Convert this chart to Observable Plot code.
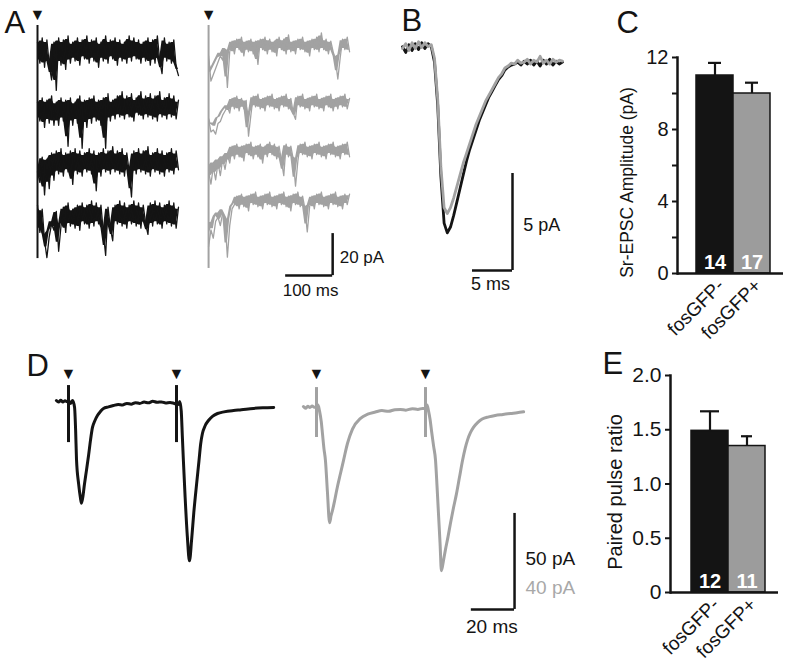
<!DOCTYPE html>
<html><head><meta charset="utf-8">
<script src="https://cdn.jsdelivr.net/npm/d3@7"></script>
<script src="https://cdn.jsdelivr.net/npm/@observablehq/plot@0.6"></script>
<style>
body{margin:0;background:#fff}
#fig{position:relative;width:789px;height:669px;overflow:hidden}
</style></head><body><div id="fig"></div>
<script>
// ---------- DATA ----------
// Panel A: Sr-evoked asynchronous EPSC sweeps (pA, relative to each sweep's baseline), sampled every 5 ms
const aStep = 5;
const aBlack1 = [4,-6,6,-8,5,-7,-14,4,-19,6, -7,5,-9,7,-6,4,-5,6,-7,5, -4,7,-6,5,-5,6,-8,4,-5,7, -6,5,-4,6,-7,5,-5,4,-6,7, -5,6,-4,5,-6,4,-5,6,-7,5, -6,7,-5,-11,6,-5,4,-6,5,-8,-12];
const aBlack2 = [3,-6,5,-9,4,-7,6,-8,3,-8, 5,-6,4,-18,5,-8,3,-7,6,-19, 4,-9,5,-7,6,-6,4,-8,5,-19, 7,-6,4,-5,6,-4,8,-5,6,-4, 7,-6,5,-3,8,-5,6,-4,7,-5, 6,-6,8,-4,5,-5,7,-4,6,-5,4];
const aBlack3 = [-4,-9,3,-15,2,-12,5,-8,6,-5, 7,-6,5,-4,6,-10,7,-5,6,-6, 5,-4,7,-5,6,-13,5,-6,7,-4, 6,-5,8,-4,6,-5,7,-6,5,-4, -16,6,-5,7,-4,6,-5,8,-6,5, -4,7,-5,6,-6,5,-4,7,-5,6,-3];
const aBlack4 = [5,-8,3,-12,-20,-10,-4,-7,2,-17, -5,4,-8,6,-5,3,-6,5,-7,6, -4,5,-6,7,-5,6,-4,5,-8,-19, 4,-6,-12,5,-4,7,-5,6,-6,5, -4,7,-5,6,-6,5,-4,-9,6,-5, 7,-4,6,-6,5,-4,7,-5,6,-6,4];
const aGray1 = [-5,-17,-14,-11,-8,-5,-7,-2,-20,-3, 2,-4,3,-2,4,-5,2,-3,3,-4, 2,-9,3,-2,4,-4,3,-3,2,-5, 4,-2,3,-4,5,-3,2,-4,3,-2, 4,-3,2,-5,3,-2,4,-3,6,-2, 3,-4,2,-3,-7,-16,-6,3,-2,4,-3];
const aGray2 = [-8,-14,-13,-15,-10,-9,-6,-4,-2,-5, 2,-3,3,-4,2,-3,1,-16,-6,3, -2,4,-3,2,-4,3,-2,4,-3,2, -4,3,-2,4,-3,2,-5,-8,3,-2, 4,-3,2,-4,3,-2,4,-3,2,-4, 3,-2,4,-4,2,-3,3,-2,4,-3,2];
const aGray3 = [-10,-16,-8,-14,-6,-12,-4,-9,-2,-6, 2,-4,3,-3,2,-5,3,-2,4,-4, 2,-3,3,-6,2,-3,4,-2,3,-4, 2,-5,-12,3,-3,2,-4,-17,-5,3, -2,4,-3,2,-4,3,-2,4,-3,2, -4,3,-2,4,-3,2,-4,3,-2,4,-3];
const aGray4 = [-22,-14,-18,-10,-8,-12,-6,-9,-27,-12, -4,-2,2,-4,3,-3,2,-5,3,-2, 4,-3,2,-4,3,-2,4,-3,2,-4, 3,-2,4,-3,2,-5,3,-2,4,-3, 2,-4,-15,-3,2,-4,3,-2,4,-3, 2,-4,3,-2,4,-3,2,-4,3,-2,3];
const aScaleMs = 100, aScalePA = 20;

// Panel B: averaged Sr-EPSC (pA), sampled every 0.4 ms
const bStep = 0.4;
const bBlack = [0.2,-0.1,0.3,0.0,0.35,0.05,0.4,0.1,0.35,0.2,-0.6,-2.8,-6.5,-8.9,-9.4,-9.1,-8.5,-7.8,-7.1,-6.4,-5.7,-5.1,-4.6,-4.1,-3.6,-3.2,-2.8,-2.4,-2.1,-1.8,-1.5,-1.3,-1.0,-0.85,-0.75,-0.7,-0.6,-0.75,-0.55,-0.7,-0.5,-0.75,-0.55,-0.8,-0.5,-0.7,-0.45,-0.75,-0.55,-0.7,-0.6];
const bGray  = [0.1,0.35,0.0,0.4,0.1,0.45,0.15,0.4,0.2,0.3,-0.4,-2.5,-6.0,-8.1,-8.4,-8.1,-7.6,-7.0,-6.4,-5.8,-5.3,-4.8,-4.3,-3.8,-3.4,-3.0,-2.6,-2.3,-2.0,-1.7,-1.4,-1.2,-0.9,-0.8,-0.65,-0.7,-0.5,-0.65,-0.6,-0.45,-0.7,-0.5,-0.6,-0.3,-0.65,-0.5,-0.7,-0.45,-0.6,-0.5,-0.55];
const bScaleMs = 5, bScalePA = 5;

// Panel C: Sr-EPSC amplitude
const cGroups = ["fosGFP-", "fosGFP+"];
const cMeans = [11.0, 10.0];
const cSems = [0.7, 0.6];
const cNs = [14, 17];

// Panel D: paired-pulse EPSCs (ms from first stimulus, pA)
const dBlackTime = [-5.6,-4.6,-3.6,-2.6,-1.6,-0.6,0.4,1.0,1.9,2.8,3.3,3.7,4.7,5.5,6.0,6.6,7.4,8.3,9.3,10.2,11.1,12.2,13.4,14.8,16.2,18.5,20.8,23,25,27,29,31,33,35,37,39,41,43,45,47,49,50.9,51.5,52.2,52.7,53.2,54,55,56,57,58,59.3,60.4,61.2,62,63.3,64.8,66.8,69,72,76.4,80,85.6,90,95];
const dBlackAmp  = [0.5,-0.3,0.6,-0.2,0.4,-0.1,0,-1,0.5,-3,-15,-30,-43,-50,-53,-50,-43,-36,-28,-20,-13.5,-10,-7.3,-5.2,-3.6,-2.8,-2.1,-1.5,-1.8,-1.0,-1.4,-0.6,-1.0,-0.3,-0.7,0.1,-0.4,-0.2,-0.8,-0.5,-1.0,-1.5,0,-5,-18,-31,-50,-70,-83,-72,-58,-43,-31,-22,-16.7,-12.5,-9.9,-7.6,-6.25,-5.4,-4.7,-4.3,-3.6,-3.3,-3.1];
const dGrayTime = [-6,-5,-4,-3,-2,-1,0,0.7,1.4,2.2,2.75,3.4,4.1,5.0,6.0,6.7,7.3,8.5,9.6,11,12.4,14.2,16.5,20.2,23.5,27,30,33,36,38.5,41,44,46.5,48.6,50,50.7,51.4,52.1,52.8,53.7,54.6,55.3,56,56.7,57.3,58.2,59.2,60.3,61.5,62.8,64.2,65.6,67,68.2,69.3,70.6,72,74,76,79,82,85.5,89,92,95];
const dGrayAmp  = [0.4,-0.3,0.5,0,0.6,0.1,0.3,1,-1.5,-6,-11,-17,-22,-35,-48,-45,-43,-38,-33,-27.5,-22,-15,-9,-4.5,-2.8,-1.9,-1.3,-1.6,-0.9,-0.8,-1.1,-0.5,-0.8,-0.4,-0.5,1,-1.5,-5,-10,-16,-22,-33,-45,-57,-68,-64,-59,-54,-48,-42,-36,-29,-22,-17,-13.5,-10.5,-8.3,-6.2,-4.8,-3.9,-3.3,-2.9,-2.5,-2.2,-1.8];
const dStimTimes = [0, 50];
const dScaleMs = 20, dScalePAblack = 50, dScalePAgray = 40;

// Panel E: paired pulse ratio
const eGroups = ["fosGFP-", "fosGFP+"];
const eMeans = [1.49, 1.35];
const eSems = [0.18, 0.09];
const eNs = [12, 11];

// ---------- STYLE / LAYOUT ----------
const FONT = '"Liberation Sans", Arial, Helvetica, sans-serif';
const BLACK = "#141414", GRAY = "#a2a2a2", BARGRAY = "#9c9c9c";
const fig = document.getElementById("fig");
function add(opts) {
  const svg = Plot.plot(Object.assign({
    width: 789, height: 669, margin: 0,
    style: {background: "none", overflow: "visible", fontFamily: FONT, color: BLACK}
  }, opts));
  svg.style.position = "absolute"; svg.style.left = "0px"; svg.style.top = "0px";
  fig.appendChild(svg);
}

// ---------- PANEL A ----------
const aBlackBase = [-23.8, -51.4, -77.6, -102.4];
const aGrayBase = [-21.4, -48.6, -71.4, -95.2];
const aGrayT0 = 364;
const coreShare = 0.75; // dense core of the noise band
function sweepRows(list, bases, t0) {
  const rows = [];
  list.forEach((vals, k) => vals.forEach((v, i) => {
    const pair = [v, vals[Math.min(i + 1, vals.length - 1)]];
    rows.push({id: k, t: t0 + i * aStep, v: v + bases[k],
      lo: coreShare * d3.min(pair) + bases[k], hi: coreShare * d3.max(pair) + bases[k]});
  }));
  return rows;
}
const aRowsB = sweepRows([aBlack1, aBlack2, aBlack3, aBlack4], aBlackBase, 0);
const aRowsG = sweepRows([aGray1, aGray2, aGray3, aGray4], aGrayBase, aGrayT0);
const aBarX = 628, aBarY = -131;
const letter = (s, dx, dy) => Plot.text([s], {frameAnchor: "top-left", dx, dy, fontSize: 31, textAnchor: "start", lineAnchor: "bottom", fill: BLACK});
add({
  x: {domain: [0, 100], range: [37, 84], axis: null},
  y: {domain: [0, -20], range: [0, 42], axis: null},
  marks: [
    Plot.ruleX([0], {y1: -11.9, y2: -122.9, stroke: BLACK, strokeWidth: 2}),
    Plot.ruleX([aGrayT0], {y1: -11.9, y2: -127.6, stroke: GRAY, strokeWidth: 2}),
    Plot.areaY(aRowsB, {x: "t", y1: "lo", y2: "hi", z: "id", fill: BLACK}),
    Plot.line(aRowsB, {x: "t", y: "v", z: "id", stroke: BLACK, strokeWidth: 1.3}),
    Plot.areaY(aRowsG, {x: "t", y1: "lo", y2: "hi", z: "id", fill: GRAY}),
    Plot.line(aRowsG, {x: "t", y: "v", z: "id", stroke: GRAY, strokeWidth: 1.3}),
    Plot.text([0, aGrayT0], {x: d => d, y: () => -9.3, text: () => "\u25BC", fontSize: 16, lineAnchor: "bottom", fill: BLACK}),
    Plot.ruleX([aBarX], {y1: aBarY + aScalePA, y2: aBarY, stroke: BLACK, strokeWidth: 2.5}),
    Plot.ruleY([aBarY], {x1: aBarX - aScaleMs, x2: aBarX, stroke: BLACK, strokeWidth: 2.5}),
    Plot.text([aScalePA + " pA"], {x: () => aBarX + 15, y: () => -124.8, textAnchor: "start", lineAnchor: "bottom", fontSize: 17, fill: BLACK}),
    Plot.text([aScaleMs + " ms"], {x: () => aBarX - aScaleMs / 2 + 3, y: () => -140.5, lineAnchor: "bottom", fontSize: 17, fill: BLACK}),
    letter("A", 4, 32), letter("B", 401, 30), letter("C", 616, 32), letter("D", 26, 375), letter("E", 602, 373)
  ]
});

// ---------- PANEL B ----------
const bRowsB = bBlack.map((v, i) => ({t: i * bStep, v}));
const bRowsG = bGray.map((v, i) => ({t: i * bStep, v}));
const bBarX = 13.75, bBarY = -11.34;
add({
  x: {domain: [0, 5], range: [402, 442], axis: null},
  y: {domain: [0, -5], range: [50, 147], axis: null},
  marks: [
    Plot.line(bRowsB, {x: "t", y: "v", stroke: BLACK, strokeWidth: 2.8}),
    Plot.line(bRowsG, {x: "t", y: "v", stroke: GRAY, strokeWidth: 2.8}),
    Plot.ruleX([bBarX], {y1: bBarY + bScalePA, y2: bBarY, stroke: BLACK, strokeWidth: 2.5}),
    Plot.ruleY([bBarY], {x1: bBarX - bScaleMs, x2: bBarX, stroke: BLACK, strokeWidth: 2.5}),
    Plot.text([bScalePA + " pA"], {x: () => 15.1, y: () => -9.28, textAnchor: "start", lineAnchor: "bottom", fontSize: 18, fill: BLACK}),
    Plot.text([bScaleMs + " ms"], {x: () => 11, y: () => -12.37, lineAnchor: "bottom", fontSize: 18, fill: BLACK})
  ]
});

// ---------- bar panel helper ----------
function barPanel({groups, means, sems, ns, margins, xRange, yDomain, ticks, minorTicks, tickFormat, tickFont, label, labelFont, labelDx, labelDy, caps}) {
  const rows = groups.map((g, i) => ({g, m: means[i], hi: means[i] + sems[i], n: ns[i], c: i === 0 ? BLACK : BARGRAY}));
  const marks = [
    Plot.barY(rows, {x: "g", y: "m", fill: "c", stroke: BLACK, strokeWidth: 1.5}),
    Plot.ruleX(rows, {x: "g", y1: "m", y2: "hi", stroke: BLACK, strokeWidth: 2.2}),
    ...rows.map((r, i) => Plot.tickY([r], {x: "g", y: "hi", insetLeft: caps[i], insetRight: caps[i], stroke: BLACK, strokeWidth: 2.2})),
    Plot.text(rows, {x: "g", y: () => 0, text: "n", fill: "white", fontWeight: "bold", fontSize: 20, lineAnchor: "bottom", dy: -5}),
    Plot.axisY({ticks, tickSize: 5, tickPadding: 4, fontSize: tickFont, label: null, tickFormat, strokeWidth: 2}),
    Plot.axisX({tickRotate: -45, tickSize: 0, tickPadding: 9, dx: 6, fontSize: 19, label: null}),
    Plot.frame({anchor: "left", strokeWidth: 2.5, stroke: BLACK}),
    Plot.ruleY([0], {stroke: BLACK, strokeWidth: 2.5}),
    Plot.text([label], {frameAnchor: "left", textAnchor: "middle", lineAnchor: "middle", rotate: -90, dx: labelDx, dy: labelDy, fontSize: labelFont, fill: BLACK})
  ];
  if (minorTicks) marks.push(Plot.axisY({ticks: minorTicks, tickSize: 5, tickFormat: () => "", label: null, strokeWidth: 2}));
  add(Object.assign({}, margins, {
    x: {type: "band", domain: groups, range: xRange, padding: 0, axis: null},
    y: {domain: yDomain, axis: null},
    color: {type: "identity"},
    marks
  }));
}

// ---------- PANEL C ----------
barPanel({
  groups: cGroups, means: cMeans, sems: cSems, ns: cNs,
  margins: {marginLeft: 677, marginRight: 6, marginTop: 57, marginBottom: 396},
  xRange: [696, 770], yDomain: [0, 12], ticks: [0, 4, 8, 12], minorTicks: [2, 6, 10],
  tickFormat: d => String(d), tickFont: 20,
  label: "Sr-EPSC Amplitude (pA)", labelFont: 17.5, labelDx: -50, labelDy: 17, caps: [12, 12]
});

// ---------- PANEL D ----------
const dRowsB = dBlackTime.map((t, i) => ({t, v: dBlackAmp[i]}));
const dRowsG = dGrayTime.map((t, i) => ({t, v: dGrayAmp[i]}));
const dBarX = 206.5, dBarY = -108.3;
add({
  x: {domain: [0, 50], range: [68, 176], axis: null},
  y: {domain: [0, -50], range: [401, 497], axis: null},
  marks: [
    Plot.ruleX(dStimTimes, {y1: 8.3, y2: -21.4, stroke: BLACK, strokeWidth: 3}),
    Plot.line(dRowsB, {x: "t", y: "v", stroke: BLACK, strokeWidth: 3, curve: "monotone-x"}),
    Plot.text(dStimTimes, {x: d => d, y: () => 11.8, text: () => "\u25BC", fontSize: 16, lineAnchor: "bottom", fill: BLACK}),
    Plot.ruleX([dBarX], {y1: dBarY + dScalePAblack, y2: dBarY, stroke: BLACK, strokeWidth: 2.5}),
    Plot.ruleY([dBarY], {x1: dBarX - dScaleMs, x2: dBarX, stroke: BLACK, strokeWidth: 2.5}),
    Plot.text([dScalePAblack + " pA"], {x: () => 211.6, y: () => -85.4, textAnchor: "start", lineAnchor: "bottom", fontSize: 19, fill: BLACK}),
    Plot.text([dScalePAgray + " pA"], {x: () => 211.6, y: () => -100, textAnchor: "start", lineAnchor: "bottom", fontSize: 19, fill: "#a8a8a8"}),
    Plot.text([dScaleMs + " ms"], {x: () => dBarX - dScaleMs / 2 - 0.5, y: () => -120.8, lineAnchor: "bottom", fontSize: 19, fill: BLACK})
  ]
});
add({
  x: {domain: [0, 50], range: [316, 425], axis: null},
  y: {domain: [0, -40], range: [407, 503], axis: null},
  marks: [
    Plot.ruleX(dStimTimes, {y1: 8.3, y2: -12.5, stroke: GRAY, strokeWidth: 3}),
    Plot.line(dRowsG, {x: "t", y: "v", stroke: GRAY, strokeWidth: 3, curve: "monotone-x"}),
    Plot.text(dStimTimes, {x: d => d, y: () => 12, text: () => "\u25BC", fontSize: 16, lineAnchor: "bottom", fill: BLACK})
  ]
});

// ---------- PANEL E ----------
barPanel({
  groups: eGroups, means: eMeans, sems: eSems, ns: eNs,
  margins: {marginLeft: 670, marginRight: 11, marginTop: 375, marginBottom: 77},
  xRange: [690, 765], yDomain: [0, 2], ticks: [0, 0.5, 1, 1.5, 2], minorTicks: null,
  tickFormat: d => d === 0 ? "0" : d.toFixed(1), tickFont: 21,
  label: "Paired pulse ratio", labelFont: 20, labelDx: -55, labelDy: 8, caps: [9, 13]
});
</script>
</body></html>
